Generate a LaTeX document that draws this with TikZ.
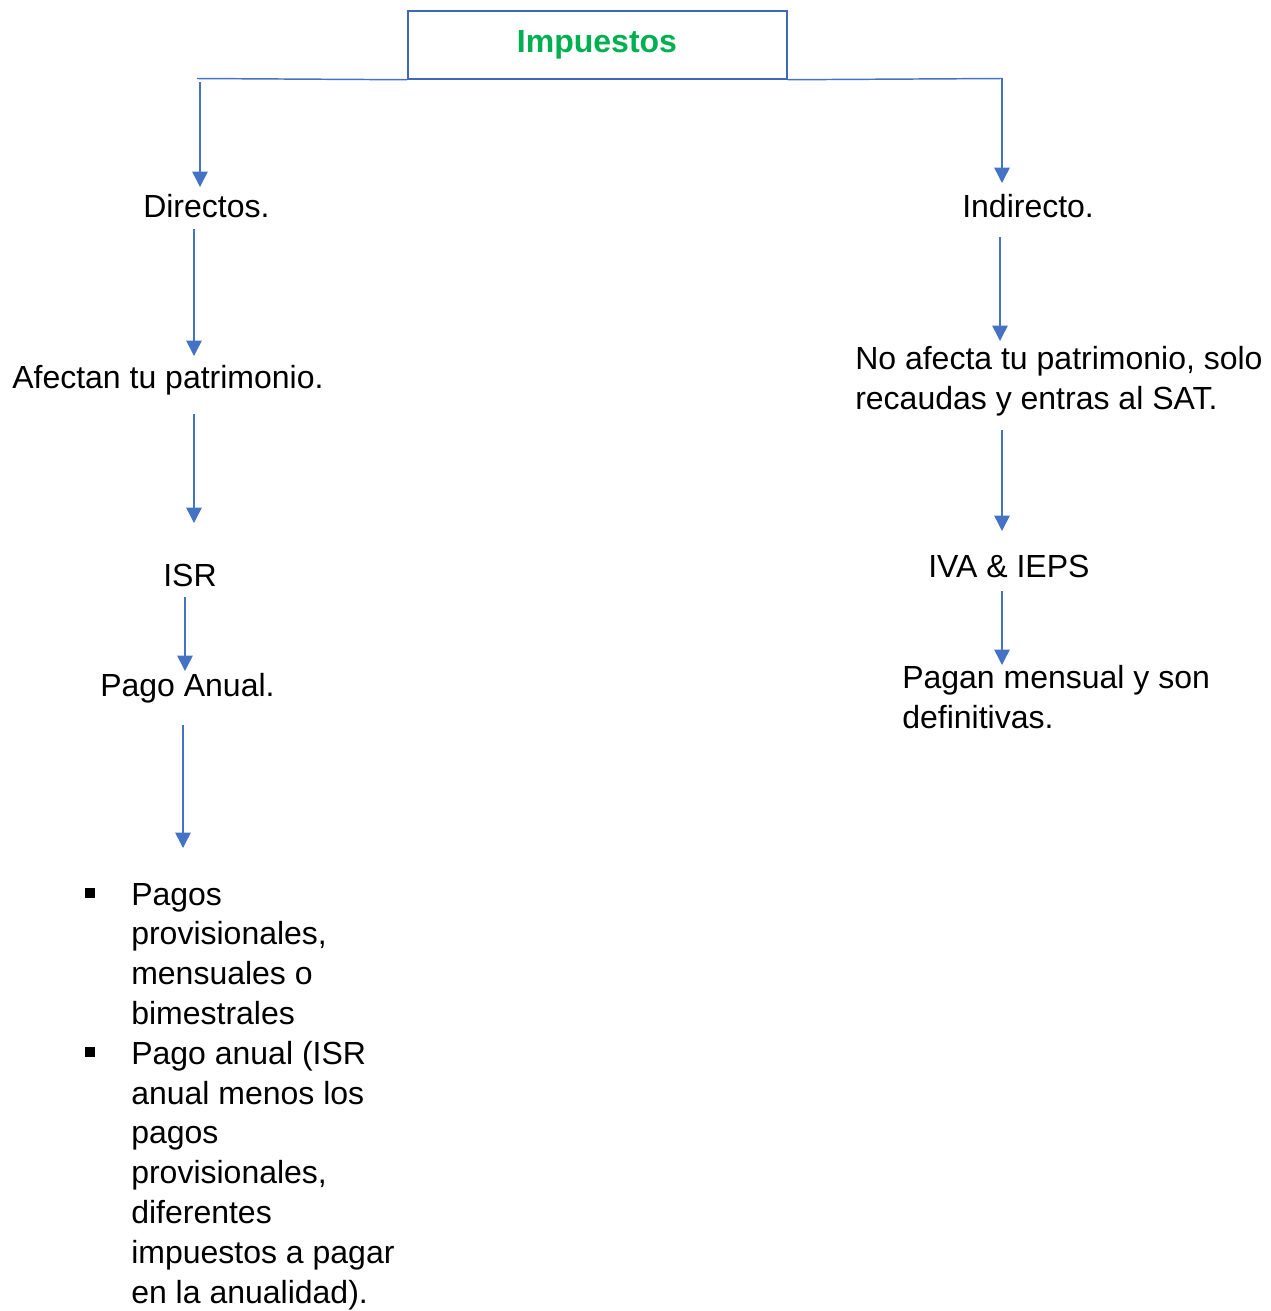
\documentclass[tikz,border=0pt]{standalone}
\usepackage{fontspec}
\setmainfont{Liberation Sans}
\usetikzlibrary{arrows.meta}
\definecolor{lineblue}{HTML}{4472C4}
\definecolor{boxblue}{HTML}{4068B8}
\definecolor{titlegreen}{HTML}{00B050}
\begin{document}
\begin{tikzpicture}[x=0.75pt,y=-0.75pt,
  txt/.style={anchor=base west,inner sep=0pt,font=\fontsize{24pt}{29.85pt}\selectfont,align=left},
  arr/.style={draw=lineblue,line width=1.1pt,-{Triangle[width=11.5pt,length=11.5pt]}},
  conn/.style={draw=lineblue,line width=1.1pt},
  bulletsq/.style={fill=black,inner sep=0pt,minimum size=7pt}]
\useasboundingbox (0,0) rectangle (1271,1311);
% title box
\node[draw=boxblue,line width=1.3pt,minimum width=284.25pt,minimum height=51pt,inner sep=0pt,anchor=north west] (box) at (407,10) {};
\node[inner sep=0pt,anchor=base,font=\fontsize{24pt}{30pt}\selectfont\bfseries,text=titlegreen] (title) at (597,52) {Impuestos};
% branch line
\coordinate (bl) at (197,78.5);
\coordinate (br) at (1002,78.5);
\draw[conn] (bl) -- (box.south west);
\draw[conn] (box.south east) -- (br);
% left column (base anchor = baseline of the last line)
\node[txt] (directos) at (143,217) {Directos.};
\node[txt] (afectan) at (12,388) {Afectan tu patrimonio.};
\node[txt] (isr) at (163,586) {ISR};
\node[txt] (pagoanual) at (100,696) {Pago Anual.};
\node[txt] (item1) at (131,1024.5) {Pagos\\provisionales,\\mensuales o\\bimestrales};
\node[txt] (item2) at (131,1303) {Pago anual (ISR\\anual menos los\\pagos\\provisionales,\\diferentes\\impuestos a pagar\\en la anualidad).};
\node[bulletsq] (b1) at (90,893) {};
\node[bulletsq] (b2) at (90,1052) {};
% right column
\node[txt] (indirecto) at (962,217) {Indirecto.};
\node[txt] (noafecta) at (855,409) {No afecta tu patrimonio, solo\\recaudas y entras al SAT.};
\node[txt] (iva) at (928,577) {IVA \& IEPS};
\node[txt] (pagan) at (902,728) {Pagan mensual y son\\definitivas.};
% arrow endpoints
\coordinate (a1s) at (200,82);   \coordinate (a1e) at (200,187);
\coordinate (a2s) at (1002,78);  \coordinate (a2e) at (1002,183);
\coordinate (a3s) at (194,229);  \coordinate (a3e) at (194,356);
\coordinate (a4s) at (194,414);  \coordinate (a4e) at (194,523);
\coordinate (a5s) at (185,597);  \coordinate (a5e) at (185,671);
\coordinate (a6s) at (183,725);  \coordinate (a6e) at (183,848);
\coordinate (a7s) at (1000,237); \coordinate (a7e) at (1000,341);
\coordinate (a8s) at (1002,430); \coordinate (a8e) at (1002,531);
\coordinate (a9s) at (1002,591); \coordinate (a9e) at (1002,665);
\foreach \i in {1,...,9} {\draw[arr] (a\i s) -- (a\i e);}
\end{tikzpicture}
\end{document}
